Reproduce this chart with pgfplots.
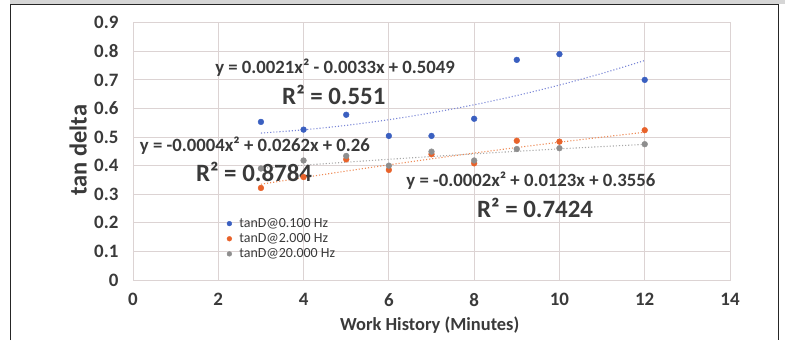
\documentclass[border=0pt]{standalone}
\usepackage{pgfplots}
\pgfplotsset{compat=1.18}
\usepackage{fontspec}
\setmainfont{Carlito}

\definecolor{sBlue}{HTML}{3A5FC0}
\definecolor{sOrange}{HTML}{E8622A}
\definecolor{sGray}{HTML}{8E8E8E}
\definecolor{tBlue}{HTML}{7A86D6}
\definecolor{tOrange}{HTML}{EE8A55}
\definecolor{tGray}{HTML}{A8A8A8}
\definecolor{gridc}{HTML}{DCD3D3}
\definecolor{bandc}{HTML}{D6D6D6}
\definecolor{txt}{HTML}{3A3A3A}

\newcommand{\fs}[1]{\fontsize{#1}{#1}\selectfont}

\begin{document}
\begin{tikzpicture}[x=1bp,y=1bp]
\useasboundingbox (0,0) rectangle (785,340);
% page frame
\fill[bandc] (10,335.5) rectangle (785,340);
\draw[line width=1.6bp,black!85] (10.5,0) -- (10.5,335.5) -- (778.5,335.5) -- (778.5,0);

\begin{axis}[
  at={(133bp,60bp)}, anchor=south west,
  scale only axis, width=597bp, height=257.3bp,
  xmin=0, xmax=14, ymin=0, ymax=0.9,
  xtick={0,2,...,14}, ytick={0,0.1,...,0.9},
  grid=major, major grid style={gridc, line width=0.8bp},
  axis line style={gridc, line width=0.8bp},
  tick style={draw=none},
  /pgf/number format/assume math mode=true,
  /pgf/number format/fixed, /pgf/number format/precision=1,
  ticklabel style={font=\bfseries\fs{19}, text=txt},
  yticklabel style={xshift=-11bp},
  xticklabel style={yshift=-10bp},
  xlabel={Work History (Minutes)},
  ylabel={tan delta},
  xlabel style={font=\bfseries\fs{18.5}, text=txt, at={(axis description cs:0.497,-0.175)}, anchor=center},
  ylabel style={font=\bfseries\fs{24.5}, text=txt, at={(axis description cs:-0.092,0.505)}, anchor=center, rotate=0},
  legend style={draw=none, fill=none, at={(0.149,0.252)}, anchor=north west,
    font=\fs{14}, text=txt, row sep=0.6bp, inner sep=1bp,
    nodes={inner xsep=2bp}},
  legend cell align=left,
  legend image code/.code={\path[draw=none] (0cm,0cm) -- (0.5cm,0cm);
    \draw[mark size=2.4bp] plot coordinates {(0.22cm,0cm)};},
  clip=false,
]
% trendlines (second-order polynomial fits)
\addplot[tBlue, dotted, line width=1.1bp, smooth, forget plot] coordinates {
 (3,0.5139) (4,0.5253) (5,0.5409) (6,0.5607) (7,0.5847) (8,0.6129)
 (9,0.6453) (10,0.6819) (11,0.7227) (12,0.7677)};
\addplot[tOrange, dotted, line width=1.1bp, smooth, forget plot] coordinates {
 (3,0.3350) (4,0.3584) (5,0.3810) (6,0.4028) (7,0.4238) (8,0.4440)
 (9,0.4634) (10,0.4820) (11,0.4998) (12,0.5168)};
\addplot[tGray, dotted, line width=1.1bp, smooth, forget plot] coordinates {
 (3,0.3907) (4,0.4016) (5,0.4121) (6,0.4222) (7,0.4319) (8,0.4412)
 (9,0.4501) (10,0.4586) (11,0.4667) (12,0.4744)};

% measured points
\addplot[only marks, mark=*, mark size=2.9bp, sBlue] coordinates {
 (3,0.553) (4,0.526) (5,0.578) (6,0.504) (7,0.504) (8,0.564)
 (9,0.770) (10,0.790) (12,0.700)};
\addlegendentry{tanD@0.100 Hz}
\addplot[only marks, mark=*, mark size=2.9bp, sOrange] coordinates {
 (3,0.322) (4,0.360) (5,0.422) (6,0.385) (7,0.440) (8,0.408)
 (9,0.487) (10,0.484) (12,0.524)};
\addlegendentry{tanD@2.000 Hz}
\addplot[only marks, mark=*, mark size=2.9bp, sGray] coordinates {
 (3,0.390) (4,0.418) (5,0.434) (6,0.400) (7,0.449) (8,0.418)
 (9,0.458) (10,0.461) (12,0.475)};
\addlegendentry{tanD@20.000 Hz}

% fit annotations
\node[font=\bfseries\fs{18.8}, text=txt] at (axis cs:4.74,0.742) {y = 0.0021x² - 0.0033x + 0.5049};
\node[font=\bfseries\fs{25}, text=txt] at (axis cs:4.71,0.648) {R² = 0.551};
\node[font=\bfseries\fs{18.8}, text=txt] at (axis cs:2.86,0.469) {y = -0.0004x² + 0.0262x + 0.26};
\node[font=\bfseries\fs{25}, text=txt] at (axis cs:2.84,0.378) {R² = 0.8784};
\node[font=\bfseries\fs{18.8}, text=txt] at (axis cs:9.33,0.347) {y = -0.0002x² + 0.0123x + 0.3556};
\node[font=\bfseries\fs{25}, text=txt] at (axis cs:9.43,0.252) {R² = 0.7424};
\end{axis}
\end{tikzpicture}
\end{document}
